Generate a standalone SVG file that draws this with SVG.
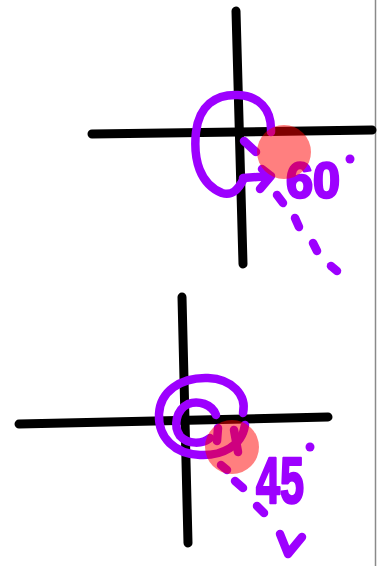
<svg xmlns="http://www.w3.org/2000/svg" width="380" height="566" viewBox="0 0 380 566">
<style>
.axis{stroke:#000;stroke-width:9;stroke-linecap:round;fill:none}
.pen{stroke:#9d00ff;stroke-width:8.5;stroke-linecap:round;stroke-linejoin:round;fill:none}
.dot{fill:#9d00ff}
.num{fill:#9d00ff;stroke:#9d00ff;stroke-width:2.5;stroke-linejoin:round;font-family:"Liberation Sans",Arial,sans-serif;font-weight:bold}
.spot{fill:#ff0000;opacity:0.5}
</style>
<rect width="380" height="566" fill="#fff"/>
<line x1="375.5" y1="0" x2="375.5" y2="566" stroke="#8a8a8a" stroke-width="1.5"/>

<g id="top">
  <line class="axis" x1="236" y1="11" x2="243" y2="264"/>
  <line class="axis" x1="92" y1="134" x2="372" y2="130"/>
  <path class="pen" d="M271,132 C272,108 258,96 238,95 C215,94 199,106 196,132 C193,160 200,184 222,193 C232,196 238,190 243,180"/>
  <path class="pen" d="M243,178 L271,176 M262,169 L271,176 L260,189"/>
  <line class="pen" x1="244" y1="141" x2="256" y2="152"/>
  <line class="pen" x1="277" y1="195" x2="283" y2="203"/>
  <line class="pen" x1="295" y1="218" x2="299" y2="227"/>
  <line class="pen" x1="313" y1="243" x2="317" y2="251"/>
  <line class="pen" x1="331" y1="266" x2="337" y2="271"/>
  <text class="num" x="286" y="198" font-size="50" textLength="54" lengthAdjust="spacingAndGlyphs">60</text>
  <circle class="dot" cx="350" cy="159" r="4.5"/>
  <circle class="spot" cx="284" cy="152" r="27"/>
</g>

<g id="bottom">
  <line class="axis" x1="182" y1="297" x2="188" y2="543"/>
  <line class="axis" x1="19" y1="424" x2="328" y2="417"/>
  <path class="pen" d="M243,413 C247,395 232,379 208,378 C180,377 160,392 159,414 C158,438 175,454 200,455 C222,456 242,446 245,425"/>
  <path class="pen" d="M216,415 C212,404 198,400 188,404 C176,410 173,426 180,436 C188,445 203,444 210,438"/>
  <line class="pen" x1="218" y1="428" x2="217" y2="441"/>
  <line class="pen" x1="234" y1="430" x2="238" y2="452"/>
  <line class="pen" x1="221" y1="465" x2="227" y2="470"/>
  <line class="pen" x1="235" y1="481" x2="243" y2="488"/>
  <line class="pen" x1="257" y1="506" x2="264" y2="513"/>
  <path class="pen" d="M280,534 L288,554 L302,537"/>
  <text class="num" x="256" y="503" font-size="64" textLength="48" lengthAdjust="spacingAndGlyphs">45</text>
  <circle class="dot" cx="310" cy="447" r="4.5"/>
  <circle class="spot" cx="232" cy="447" r="27"/>
</g>
</svg>
